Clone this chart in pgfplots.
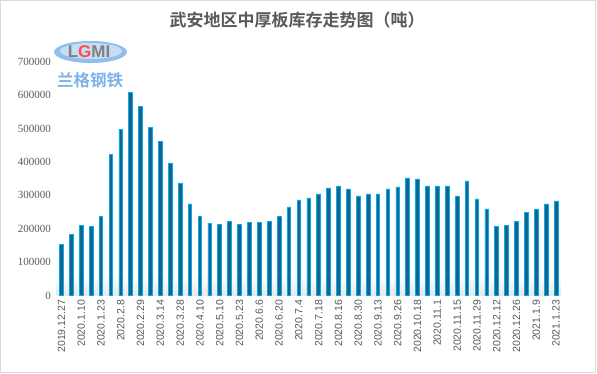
\documentclass[border=0pt]{standalone}
\usepackage{fontspec}
\setmainfont{Liberation Serif}
\newfontfamily\sans{Liberation Sans}
\newfontfamily\cjk{Noto Sans CJK SC}[BoldFont={Noto Sans CJK SC Bold}]
\usepackage{pgfplots}
\pgfplotsset{compat=1.18}
\definecolor{txt}{HTML}{595959}
\definecolor{barfill}{HTML}{17648A}
\definecolor{baredge}{HTML}{00AEEF}
\definecolor{axl}{HTML}{D9D9D9}
\definecolor{logob}{HTML}{7DB3EA}
\begin{document}
\begin{tikzpicture}[x=1pt,y=1pt]
\useasboundingbox (0,0) rectangle (597,373);
\draw[axl, line width=1pt] (0.5,0.5) rectangle (595.5,372.5);
\node[font=\cjk\bfseries\fontsize{17}{20}\selectfont, text=txt] at (297,353) {武安地区中厚板库存走势图（吨）};
% logo watermark
\fill[logob!85] (90.5,321) ellipse (36.5 and 11);
\fill[white!55!logob] (91,322) ellipse (31 and 8);
\node[font=\sans\bfseries\fontsize{17}{18}\selectfont, text=gray] at (89,321) {L\textcolor{red!70}{G}MI};
\node[font=\cjk\bfseries\fontsize{16.5}{18}\selectfont, text=logob] at (90,293) {兰格钢铁};
\begin{axis}[
  at={(56.5pt,77.5pt)}, anchor=south west,
  scale only axis, width=504.5pt, height=233.8pt,
  xmin=-0.5, xmax=50.5, ymin=0, ymax=700000,
  axis lines=left, axis line style={-},
  x axis line style={draw=axl, line width=1pt},
  y axis line style={draw=none},
  major tick length=0pt,
  ytick={0,100000,...,700000},
  scaled y ticks=false,
  /pgf/number format/.cd, fixed, set thousands separator={}, assume math mode=true,
  /pgfplots/.cd,
  yticklabel style={font=\fontsize{11}{13}\selectfont, text=txt, xshift=-2pt},
  xtick={0,2,...,50},
  xticklabels={2019.12.27,2020.1.10,2020.1.23,2020.2.8,2020.2.29,2020.3.14,2020.3.28,2020.4.10,2020.5.10,2020.5.23,2020.6.6,2020.6.20,2020.7.4,2020.7.18,2020.8.16,2020.8.30,2020.9.13,2020.9.26,2020.10.18,2020.11.1,2020.11.15,2020.11.29,2020.12.12,2020.12.26,2021.1.9,2021.1.23},
  xticklabel style={font=\sans\fontsize{10.5}{12}\selectfont, text=txt, rotate=90, anchor=east, yshift=0pt, xshift=-1pt},
  clip=false,
]
\fill[top color=white, bottom color=black!9] (axis cs:-0.5,0) rectangle (axis cs:50.5,60000);
\addplot[ybar, bar width=3.7pt, fill=barfill, draw=baredge, line width=0.8pt] coordinates {
(0,154000) (1,184000) (2,211000) (3,208000) (4,238000) (5,421000) (6,498000) (7,609000) (8,567000) (9,504000)
(10,460000) (11,397000) (12,337000) (13,274000) (14,238000) (15,217000) (16,214000) (17,223000) (18,214000) (19,220000)
(20,220000) (21,223000) (22,238000) (23,265000) (24,286000) (25,292000) (26,304000) (27,322000) (28,328000) (29,319000)
(30,298000) (31,304000) (32,304000) (33,319000) (34,325000) (35,352000) (36,349000) (37,328000) (38,328000) (39,328000)
(40,298000) (41,343000) (42,289000) (43,259000) (44,208000) (45,211000) (46,223000) (47,250000) (48,259000) (49,274000)
(50,283000)
};
\end{axis}
\end{tikzpicture}
\end{document}
